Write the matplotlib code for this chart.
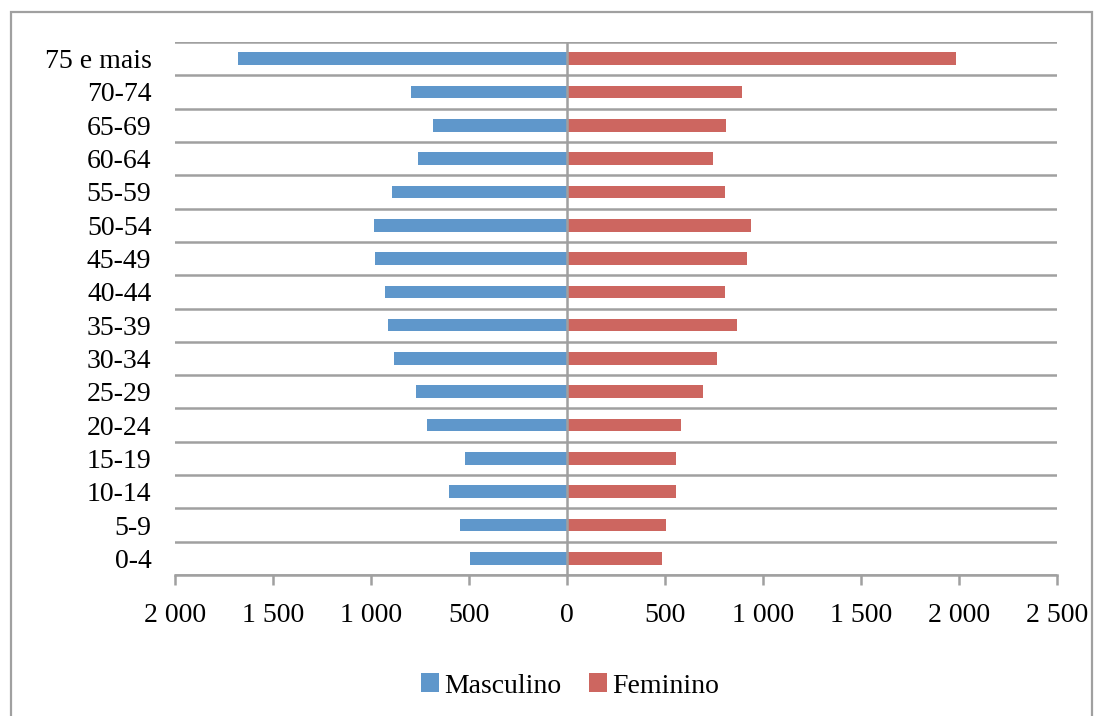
import numpy as np
import matplotlib.pyplot as plt
from matplotlib.patches import Rectangle
from matplotlib.ticker import FuncFormatter

# =========================
# Data
# =========================
age_groups = ["0-4", "5-9", "10-14", "15-19", "20-24", "25-29", "30-34",
              "35-39", "40-44", "45-49", "50-54", "55-59", "60-64",
              "65-69", "70-74", "75 e mais"]
masculino = [495, 546, 602, 520, 714, 770, 883, 913, 929, 980, 985,
             893, 760, 684, 796, 1679]
feminino = [485, 505, 556, 556, 582, 694, 765, 867, 806, 918, 939,
            806, 745, 811, 893, 1985]

blue = "#5F97CB"
red = "#CD6660"
grid_col = "#A0A0A0"

plt.rcParams["font.family"] = ["Liberation Serif", "DejaVu Serif"]

fig = plt.figure(figsize=(11.03, 7.16), dpi=100)
ax = fig.add_axes([175 / 1103, 141 / 716, 882 / 1103, 533 / 716])

y = np.arange(len(age_groups))
ax.barh(y, [-m for m in masculino], height=0.38, color=blue, label="Masculino")
ax.barh(y, feminino, height=0.38, color=red, label="Feminino")

# category separators
for b in np.arange(len(age_groups) + 1) - 0.5:
    ax.axhline(b, color=grid_col, linewidth=1.8, zorder=0)
ax.axvline(0, color=grid_col, linewidth=1.8, zorder=3)

ax.set_xlim(-2000, 2500)
ax.set_ylim(-0.5, len(age_groups) - 0.5)
ax.set_xticks(np.arange(-2000, 2501, 500))
ax.xaxis.set_major_formatter(FuncFormatter(
    lambda v, p: f"{abs(int(v)):,}".replace(",", " ")))
ax.set_yticks(y)
ax.set_yticklabels(age_groups)

for s in ["top", "right", "left"]:
    ax.spines[s].set_visible(False)
ax.spines["bottom"].set_color(grid_col)
ax.spines["bottom"].set_linewidth(1.8)
ax.tick_params(axis="x", length=7, width=1.8, color=grid_col,
               labelsize=20, pad=13)
ax.tick_params(axis="y", length=0, labelsize=20, pad=17)

leg = fig.legend(loc="center", bbox_to_anchor=(570 / 1103, 1 - 686 / 716),
                 ncol=2, frameon=False, fontsize=20, handlelength=0.65,
                 handleheight=0.65, handletextpad=0.2, columnspacing=1.0)

# outer frame
fig.patches.append(Rectangle((11 / 1103, -0.01), 1081 / 1103, 1 - 12 / 716 + 0.01,
                             transform=fig.transFigure, fill=False,
                             edgecolor="#A0A0A0", linewidth=1.6))

fig.savefig("out.png", dpi=100)
